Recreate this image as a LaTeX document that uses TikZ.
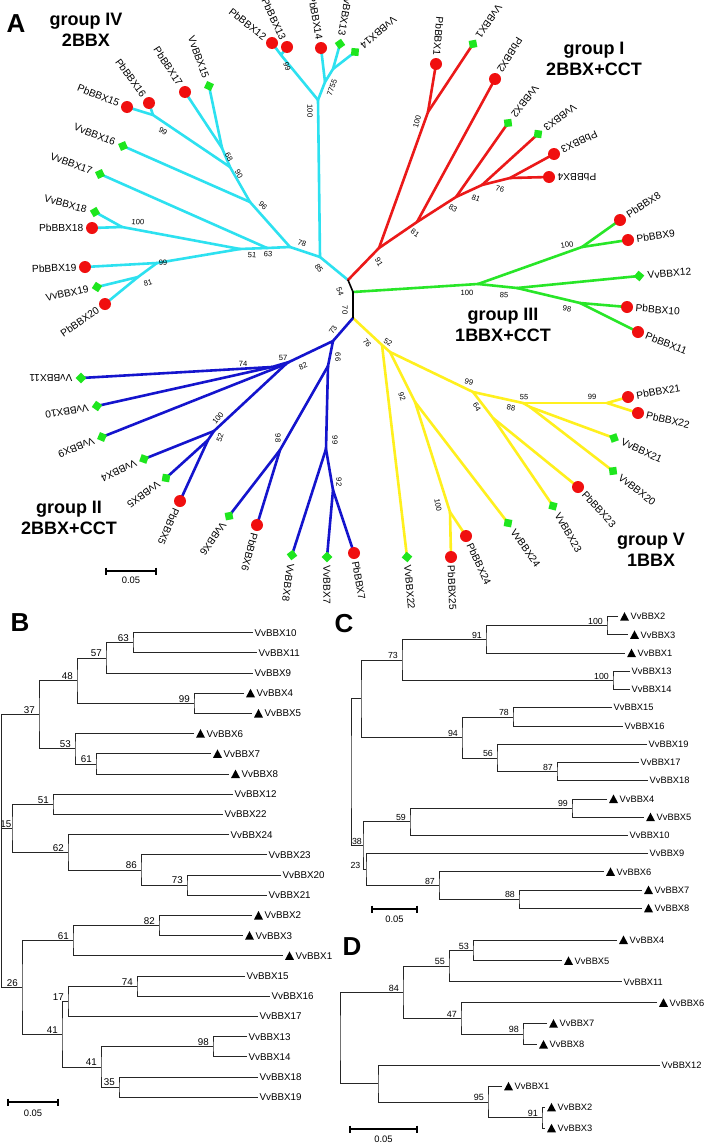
\documentclass[tikz,border=0pt]{standalone}
\usepackage{fontspec}
\setmainfont{Liberation Sans}
\usetikzlibrary{calc}
\definecolor{cyanc}{RGB}{45,225,240}
\definecolor{redc}{RGB}{235,25,25}
\definecolor{greenc}{RGB}{40,230,40}
\definecolor{yellowc}{RGB}{255,240,30}
\definecolor{bluec}{RGB}{20,20,205}
\definecolor{dotred}{RGB}{240,15,15}
\definecolor{sqgreen}{RGB}{30,230,30}
\pgfdeclarelayer{bg}
\pgfsetlayers{bg,main}
% #1 number, #2 x, #3 y, #4 text rotation, #5 side (1 = text after the dot, -1 = text before it)
\newcommand{\pbA}[5]{\node[reddot] (Pb#1) at (#2,#3) {};
 \ifnum#5>0 \node[leaflab,rotate=#4,anchor=west] (Pb#1t) at ({#2+8.5*cos(#4)},{#3-8.5*sin(#4)}) {PbBBX#1};
 \else \node[leaflab,rotate=#4,anchor=east] (Pb#1t) at ({#2-8.5*cos(#4)},{#3+8.5*sin(#4)}) {PbBBX#1};\fi}
\newcommand{\vvA}[5]{\node[greensq,rotate={#4+45}] (Vv#1) at (#2,#3) {};
 \ifnum#5>0 \node[leaflab,rotate=#4,anchor=west] (Vv#1t) at ({#2+8.5*cos(#4)},{#3-8.5*sin(#4)}) {VvBBX#1};
 \else \node[leaflab,rotate=#4,anchor=east] (Vv#1t) at ({#2-8.5*cos(#4)},{#3+8.5*sin(#4)}) {VvBBX#1};\fi}
\newcommand{\bA}[5]{\node[bsA,rotate=#4] (#1) at (#2,#3) {#5};}
\newcommand{\lf}[5]{\coordinate (#1) at (#2,#3);
 \ifnum#4=1
  \fill[black] ([xshift=2pt,yshift=-4pt]#1) -- ++(9pt,0pt) -- ++(-4.5pt,8.5pt) -- cycle;
  \node[leafB] (#1t) at ([xshift=12.5pt]#1) {#5};
 \else
  \node[leafB] (#1t) at ([xshift=1.5pt]#1) {#5};
 \fi}
\newcommand{\nd}[7]{\coordinate (#1) at (#2,#3);
 \draw[tbr] (#4) -| (#1) |- (#5);
 \node[bsB] (#1l) at ([xshift=#7pt,yshift=1pt]#1) {#6};}
\newcommand{\sbar}[5]{\coordinate (#1a) at (#2,#4); \coordinate (#1b) at (#3,#4);
 \draw[sbarst] (#1a) -- (#1b);
 \draw[sbarst] ([yshift=3.5pt]#1a) -- ([yshift=-3.5pt]#1a);
 \draw[sbarst] ([yshift=3.5pt]#1b) -- ([yshift=-3.5pt]#1b);
 \node[sblab] (#1l) at ({(#2+#3)/2},#5) {0.05};}
\begin{document}
\begin{tikzpicture}[x=1pt,y=-1pt,
 br/.style={line width=2.6pt,line cap=round,line join=round},
 cyanbr/.style={br,draw=cyanc},
 redbr/.style={br,draw=redc},
 greenbr/.style={br,draw=greenc},
 yellowbr/.style={br,draw=yellowc},
 bluebr/.style={br,draw=bluec},
 blackbr/.style={line width=1.6pt,draw=black,line join=round},
 reddot/.style={circle,fill=dotred,minimum size=12pt,inner sep=0pt},
 greensq/.style={rectangle,fill=sqgreen,minimum size=7.5pt,inner sep=0pt},
 leaflab/.style={font=\fontsize{10.2}{12}\selectfont,inner sep=0pt},
 bsA/.style={font=\fontsize{7.6}{9}\selectfont,inner sep=0pt},
 grp/.style={font=\bfseries\fontsize{18}{21}\selectfont,align=center,inner sep=0pt},
 panel/.style={font=\bfseries\fontsize{26}{28}\selectfont,inner sep=0pt},
 tbr/.style={draw=black!85,line width=0.9pt},
 bsB/.style={font=\fontsize{9.8}{11}\selectfont,inner sep=0pt,anchor=south east},
 leafB/.style={font=\fontsize{9.8}{11}\selectfont,inner sep=0pt,anchor=west},
 sbarst/.style={draw=black,line width=1.5pt},
 sblab/.style={font=\fontsize{9.4}{11}\selectfont,inner sep=0pt}]
\useasboundingbox (0,0) rectangle (709,1143);
\begin{pgfonlayer}{bg}
\fill[white] (0,0) rectangle (709,1143);
\end{pgfonlayer}
% ================= Panel A =================
\node[panel] (pA) at (16,24) {A};
\node[grp] (g4) at (86,30) {group IV\\2BBX};
\node[grp] (g1) at (594,59) {group I\\2BBX+CCT};
\node[grp] (g3) at (503,325) {group III\\1BBX+CCT};
\node[grp] (g5) at (651,550) {group V\\1BBX};
\node[grp] (g2) at (69,518) {group II\\2BBX+CCT};
% internal coordinates
\coordinate (rt1) at (348,280); \coordinate (rt2) at (353,292); \coordinate (rt3) at (353,318);
\coordinate (cy85) at (320,257); \coordinate (cy100) at (318,100); \coordinate (cy99a) at (281,55);
\coordinate (cy77) at (325,82); \coordinate (cy55) at (333,69); \coordinate (cy78) at (290,247);
\coordinate (cy96) at (250,202); \coordinate (cy90) at (230,167); \coordinate (cy68) at (222,148);
\coordinate (cy99b) at (153,115); \coordinate (cy63) at (267,248); \coordinate (cy51) at (240,249);
\coordinate (cy100c) at (122,227); \coordinate (cy99c) at (157,263); \coordinate (cy81) at (138,277);
\coordinate (rd91) at (379,248); \coordinate (rd100) at (428,112); \coordinate (rd81) at (417,222);
\coordinate (rd83) at (456,197); \coordinate (rd81b) at (482,185); \coordinate (rd76) at (510,178);
\coordinate (gn100) at (478,284); \coordinate (gn100b) at (582,247); \coordinate (gn85) at (517,288);
\coordinate (gn98) at (580,303);
\coordinate (yl76) at (382,345); \coordinate (yl52) at (390,352); \coordinate (yl92) at (415,402);
\coordinate (yl100) at (450,512); \coordinate (yl99) at (473,392); \coordinate (yl64) at (493,418);
\coordinate (yl55) at (523,403); \coordinate (yl88) at (530,407); \coordinate (yl99b) at (607,403);
\coordinate (bl73) at (333,341); \coordinate (bl57) at (289,362); \coordinate (bl74) at (272,367);
\coordinate (bl82) at (286,364); \coordinate (bl100) at (214,431); \coordinate (bl52) at (208,440);
\coordinate (bl66) at (328,366); \coordinate (bl98) at (280,450); \coordinate (bl99) at (326,449);
\coordinate (bl92) at (333,490);
% leaves
\pbA{12}{272}{43}{-38}{-1}
\pbA{13}{287}{47}{-65}{-1}
\pbA{14}{321}{48}{-80}{-1}
\vvA{13}{340}{44}{-100}{-1}
\vvA{14}{355}{52}{-140}{-1}
\pbA{17}{185}{92}{-57}{-1}
\vvA{15}{209}{86}{-70}{-1}
\pbA{15}{127}{107}{-22}{-1}
\pbA{16}{149}{103}{-54}{-1}
\vvA{16}{123}{146}{-22}{-1}
\vvA{17}{100}{174}{-20}{-1}
\vvA{18}{95}{212}{-15}{-1}
\pbA{18}{92}{228}{0}{-1}
\pbA{19}{85}{267}{2}{-1}
\vvA{19}{97}{287}{12}{-1}
\pbA{20}{105}{304}{35}{-1}
\pbA{1}{436}{64}{-95}{-1}
\vvA{1}{473}{44}{-125}{-1}
\pbA{2}{495}{79}{-122}{-1}
\vvA{2}{508}{123}{-128}{-1}
\vvA{3}{538}{134}{-143}{-1}
\pbA{3}{554}{154}{-155}{-1}
\pbA{4}{549}{177}{180}{-1}
\pbA{8}{620}{220}{33}{1}
\pbA{9}{628}{240}{8}{1}
\vvA{12}{639}{276}{5}{1}
\pbA{10}{627}{307}{-5}{1}
\pbA{11}{638}{332}{-22}{1}
\vvA{22}{407}{557}{-85}{1}
\pbA{25}{451}{557}{-88}{1}
\pbA{24}{466}{536}{-65}{1}
\vvA{24}{508}{523}{-55}{1}
\vvA{23}{553}{506}{-60}{1}
\pbA{23}{578}{487}{-47}{1}
\vvA{21}{614}{438}{-25}{1}
\vvA{20}{613}{471}{-38}{1}
\pbA{21}{628}{397}{10}{1}
\pbA{22}{638}{413}{-13}{1}
\vvA{11}{81}{378}{180}{1}
\vvA{10}{97}{406}{-170}{1}
\vvA{9}{102}{437}{-158}{1}
\vvA{4}{144}{459}{-155}{1}
\vvA{5}{166}{478}{-144}{1}
\pbA{5}{180}{501}{-114}{1}
\vvA{6}{229}{516}{-125}{1}
\pbA{6}{257}{525}{-105}{1}
\vvA{8}{292}{555}{-98}{1}
\vvA{7}{327}{557}{-90}{1}
\pbA{7}{354}{553}{-80}{1}
% branches
\begin{pgfonlayer}{bg}
\foreach \a/\b in {rt1/cy85,cy85/cy100,cy100/cy99a,cy99a/Pb12,cy99a/Pb13,cy100/cy77,cy77/Pb14,cy77/cy55,cy55/Vv13,cy55/Vv14,cy85/cy78,cy78/cy96,cy96/cy90,cy90/cy68,cy68/Pb17,cy68/Vv15,cy90/cy99b,cy99b/Pb15,cy99b/Pb16,cy96/Vv16,cy78/cy63,cy63/Vv17,cy63/cy51,cy51/cy100c,cy100c/Vv18,cy100c/Pb18,cy51/cy99c,cy99c/Pb19,cy99c/cy81,cy81/Vv19,cy81/Pb20}
 \draw[cyanbr] (\a.center) -- (\b.center);
\foreach \a/\b in {rt1/rd91,rd91/rd100,rd100/Pb1,rd100/Vv1,rd91/rd81,rd81/Pb2,rd81/rd83,rd83/Vv2,rd83/rd81b,rd81b/Vv3,rd81b/rd76,rd76/Pb3,rd76/Pb4}
 \draw[redbr] (\a.center) -- (\b.center);
\foreach \a/\b in {rt2/gn100,gn100/gn100b,gn100b/Pb8,gn100b/Pb9,gn100/gn85,gn85/Vv12,gn85/gn98,gn98/Pb10,gn98/Pb11}
 \draw[greenbr] (\a.center) -- (\b.center);
\foreach \a/\b in {rt3/yl76,yl76/Vv22,yl76/yl52,yl52/yl92,yl92/yl100,yl100/Pb25,yl100/Pb24,yl92/Vv24,yl52/yl99,yl99/yl64,yl64/Vv23,yl64/Pb23,yl99/yl55,yl55/yl99b,yl99b/Pb21,yl99b/Pb22,yl55/yl88,yl88/Vv21,yl88/Vv20}
 \draw[yellowbr] (\a.center) -- (\b.center);
\foreach \a/\b in {rt3/bl73,bl73/bl57,bl57/bl74,bl74/Vv11,bl74/Vv10,bl57/bl82,bl82/Vv9,bl82/bl100,bl100/Vv4,bl100/bl52,bl52/Vv5,bl52/Pb5,bl73/bl66,bl66/bl98,bl98/Vv6,bl98/Pb6,bl66/bl99,bl99/Vv8,bl99/bl92,bl92/Vv7,bl92/Pb7}
 \draw[bluebr] (\a.center) -- (\b.center);
\draw[blackbr] (rt1) -- (rt2) -- (rt3);
\end{pgfonlayer}
% bootstrap values A
\bA{s1}{319}{268}{-55}{85}
\bA{s2}{310}{111}{-90}{100}
\bA{s3}{287}{67}{-70}{99}
\bA{s4}{332}{88}{70}{7755}
\bA{s5}{163}{131}{-30}{99}
\bA{s6}{229}{157}{-60}{68}
\bA{s7}{239}{174}{-60}{90}
\bA{s8}{263}{206}{-45}{96}
\bA{s9}{302}{243}{-20}{78}
\bA{s10}{268}{254}{-5}{63}
\bA{s11}{252}{255}{-5}{51}
\bA{s12}{138}{222}{-5}{100}
\bA{s13}{163}{263}{5}{99}
\bA{s14}{148}{283}{15}{81}
\bA{s15}{340}{292}{-70}{54}
\bA{s16}{345}{310}{-90}{70}
\bA{s17}{379}{262}{-60}{91}
\bA{s18}{417}{122}{75}{100}
\bA{s19}{415}{233}{-35}{81}
\bA{s20}{453}{208}{-30}{83}
\bA{s21}{476}{198}{-20}{81}
\bA{s22}{500}{189}{-15}{76}
\bA{s23}{467}{293}{0}{100}
\bA{s24}{567}{245}{10}{100}
\bA{s25}{504}{295}{-5}{85}
\bA{s26}{567}{309}{-10}{98}
\bA{s27}{367}{343}{-50}{76}
\bA{s28}{388}{342}{-30}{52}
\bA{s29}{402}{397}{-70}{92}
\bA{s30}{438}{505}{-80}{100}
\bA{s31}{469}{382}{-15}{99}
\bA{s32}{477}{407}{-60}{64}
\bA{s33}{524}{397}{-5}{55}
\bA{s34}{511}{408}{-10}{88}
\bA{s35}{592}{397}{0}{99}
\bA{s36}{333}{330}{60}{73}
\bA{s37}{283}{358}{0}{57}
\bA{s38}{303}{366}{25}{82}
\bA{s39}{243}{364}{0}{74}
\bA{s40}{218}{418}{50}{100}
\bA{s41}{220}{438}{70}{52}
\bA{s42}{278}{438}{-90}{98}
\bA{s43}{338}{357}{-90}{66}
\bA{s44}{335}{440}{-90}{99}
\bA{s45}{339}{482}{-90}{92}
\sbar{sbA}{106}{156}{571}{580}
% ================= Panel B =================
\node[panel] (pB) at (20,623) {B};
\lf{B10}{253}{632.7}{0}{VvBBX10}
\lf{B11}{257}{652.9}{0}{VvBBX11}
\lf{B9}{253}{673.1}{0}{VvBBX9}
\lf{B4}{244}{693.3}{1}{VvBBX4}
\lf{B5}{252}{713.5}{1}{VvBBX5}
\lf{B6}{194}{733.7}{1}{VvBBX6}
\lf{B7}{211}{753.9}{1}{VvBBX7}
\lf{B8}{229}{774.1}{1}{VvBBX8}
\lf{B12}{233}{794.3}{0}{VvBBX12}
\lf{B22}{223}{814.5}{0}{VvBBX22}
\lf{B24}{229}{834.7}{0}{VvBBX24}
\lf{B23}{267}{854.9}{0}{VvBBX23}
\lf{B20}{281}{875.1}{0}{VvBBX20}
\lf{B21}{267}{895.3}{0}{VvBBX21}
\lf{B2}{252}{915.5}{1}{VvBBX2}
\lf{B3}{243}{935.7}{1}{VvBBX3}
\lf{B1}{283}{955.9}{1}{VvBBX1}
\lf{B15}{245}{976.1}{0}{VvBBX15}
\lf{B16}{270}{996.3}{0}{VvBBX16}
\lf{B17}{258}{1016.5}{0}{VvBBX17}
\lf{B13}{247}{1036.7}{0}{VvBBX13}
\lf{B14}{247}{1056.9}{0}{VvBBX14}
\lf{B18}{258}{1077.1}{0}{VvBBX18}
\lf{B19}{258}{1097.3}{0}{VvBBX19}
\nd{Bn63}{133}{642.8}{B10}{B11}{63}{-4}
\nd{Bn57}{106}{657.95}{Bn63}{B9}{57}{-4}
\nd{Bn99}{194}{703.4}{B4}{B5}{99}{-4}
\nd{Bn48}{77}{680.7}{Bn57}{Bn99}{48}{-4}
\nd{Bn61}{96}{764}{B7}{B8}{61}{-4}
\nd{Bn53}{75}{748.85}{B6}{Bn61}{53}{-4}
\nd{Bn37}{39}{714.8}{Bn48}{Bn53}{37}{-4}
\nd{Bn51}{53}{804.4}{B12}{B22}{51}{-4}
\nd{Bn73}{187}{885.2}{B20}{B21}{73}{-4}
\nd{Bn86}{141}{870.05}{B23}{Bn73}{86}{-4}
\nd{Bn62}{68}{852.4}{B24}{Bn86}{62}{-4}
\nd{Bn15}{12}{828.4}{Bn51}{Bn62}{15}{-0.5}
\nd{Bn82}{159}{925.6}{B2}{B3}{82}{-4}
\nd{Bn61b}{73}{940.75}{Bn82}{B1}{61}{-4}
\nd{Bn74}{137}{986.2}{B15}{B16}{74}{-4}
\nd{Bn17}{68}{1001.35}{Bn74}{B17}{17}{-4}
\nd{Bn98}{213}{1046.8}{B13}{B14}{98}{-4}
\nd{Bn35}{119}{1087.2}{B18}{B19}{35}{-4}
\nd{Bn41b}{101}{1067}{Bn98}{Bn35}{41}{-4}
\nd{Bn41a}{62}{1034.2}{Bn17}{Bn41b}{41}{-4}
\nd{Bn26}{22}{987.5}{Bn61b}{Bn41a}{26}{-4}
\coordinate (Broot) at (1.5,828.4);
\draw[tbr] (Bn37) -| (Broot) |- (Bn26);
\draw[tbr] (Broot) -- (Bn15);
\sbar{sbB}{8}{58}{1102}{1113}
% ================= Panel C =================
\node[panel] (pC) at (344,624) {C};
\begin{scope}[leafB/.style={font=\fontsize{9.3}{11}\selectfont,inner sep=0pt,anchor=west},
 bsB/.style={font=\fontsize{8.8}{10}\selectfont,inner sep=0pt,anchor=south east}]
\lf{C2}{618}{616.7}{1}{VvBBX2}
\lf{C3}{628}{634.9}{1}{VvBBX3}
\lf{C1}{625}{653.2}{1}{VvBBX1}
\lf{C13}{630}{671.4}{0}{VvBBX13}
\lf{C14}{630}{689.6}{0}{VvBBX14}
\lf{C15}{612}{707.8}{0}{VvBBX15}
\lf{C16}{623}{726.1}{0}{VvBBX16}
\lf{C19}{647}{744.3}{0}{VvBBX19}
\lf{C17}{639}{762.5}{0}{VvBBX17}
\lf{C18}{648}{780.7}{0}{VvBBX18}
\lf{C4}{607}{799.0}{1}{VvBBX4}
\lf{C5}{644}{817.2}{1}{VvBBX5}
\lf{C10}{628}{835.4}{0}{VvBBX10}
\lf{C9}{648}{853.6}{0}{VvBBX9}
\lf{C6}{604}{871.9}{1}{VvBBX6}
\lf{C7}{642}{890.1}{1}{VvBBX7}
\lf{C8}{642}{908.3}{1}{VvBBX8}
\nd{Cn100a}{607}{625.8}{C2}{C3}{100}{-4}
\nd{Cn91}{486}{639.5}{Cn100a}{C1}{91}{-4}
\nd{Cn100b}{613}{680.5}{C13}{C14}{100}{-4}
\nd{Cn73}{402}{660}{Cn91}{Cn100b}{73}{-4}
\nd{Cn78}{513}{716.95}{C15}{C16}{78}{-4}
\nd{Cn87}{557}{771.6}{C17}{C18}{87}{-4}
\nd{Cn56}{497}{757.95}{C19}{Cn87}{56}{-4}
\nd{Cn94}{462}{737.45}{Cn78}{Cn56}{94}{-4}
\nd{Cntop}{361}{698.7}{Cn73}{Cn94}{}{-4}
\nd{Cn99}{572}{808.1}{C4}{C5}{99}{-4}
\nd{Cn59}{410}{821.75}{Cn99}{C10}{59}{-4}
\nd{Cn88}{519}{899.2}{C7}{C8}{88}{-4}
\nd{Cn87b}{439}{885.55}{C6}{Cn88}{87}{-4}
\nd{Cn23}{366}{869.6}{C9}{Cn87b}{23}{-5.5}
\nd{Cn38}{363}{845.7}{Cn59}{Cn23}{38}{-1}
\nd{Croot}{351}{772.2}{Cntop}{Cn38}{}{-4}
\end{scope}
\sbar{sbC}{372}{417}{909}{919}
% ================= Panel D =================
\node[panel] (pD) at (352,947) {D};
\begin{scope}[leafB/.style={font=\fontsize{9.3}{11}\selectfont,inner sep=0pt,anchor=west},
 bsB/.style={font=\fontsize{9}{10}\selectfont,inner sep=0pt,anchor=south east}]
\lf{D4}{617}{940}{1}{VvBBX4}
\lf{D5}{562}{960.9}{1}{VvBBX5}
\lf{D11}{622}{981.8}{0}{VvBBX11}
\lf{D6}{657}{1002.8}{1}{VvBBX6}
\lf{D7}{547}{1023.7}{1}{VvBBX7}
\lf{D8}{537}{1044.6}{1}{VvBBX8}
\lf{D12}{660}{1065.5}{0}{VvBBX12}
\lf{D1}{502}{1086.4}{1}{VvBBX1}
\lf{D2}{545}{1107.4}{1}{VvBBX2}
\lf{D3}{545}{1128.3}{1}{VvBBX3}
\nd{Dn53}{473}{950.45}{D4}{D5}{53}{-4}
\nd{Dn55}{449}{966.1}{Dn53}{D11}{55}{-4}
\nd{Dn98}{523}{1034.15}{D7}{D8}{98}{-4}
\nd{Dn47}{461}{1018.5}{D6}{Dn98}{47}{-4}
\nd{Dn84}{403}{992.3}{Dn55}{Dn47}{84}{-4}
\nd{Dn91}{542}{1117.85}{D2}{D3}{91}{-4}
\nd{Dn95}{488}{1102.1}{D1}{Dn91}{95}{-4}
\nd{Dnx}{378}{1083.8}{D12}{Dn95}{}{-4}
\nd{Droot}{340}{1038}{Dn84}{Dnx}{}{-4}
\end{scope}
\sbar{sbD}{350}{417}{1129}{1139}
\end{tikzpicture}
\end{document}
